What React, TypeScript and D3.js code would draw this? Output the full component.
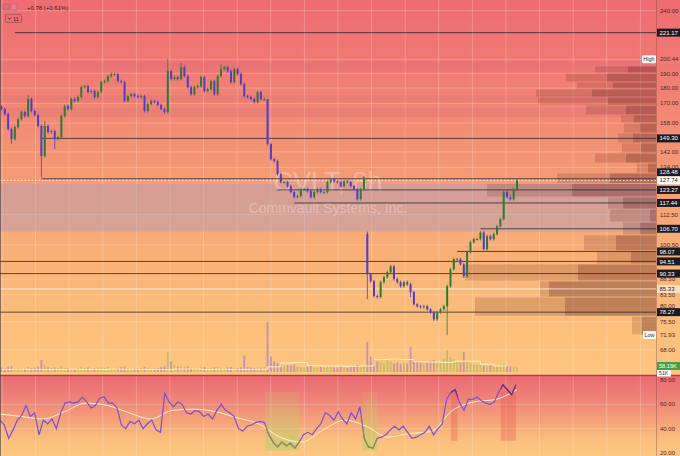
import React from 'react';
import * as d3 from 'd3';

// ---------- DATA ----------
const firstOpen = 168.0;
const closes = [
  166.5, 163.4, 154.5, 148.9, 155.7, 160.4, 164.6, 162.2, 172.8, 165.3,
  162.8, 156.3, 139.8, 156.3, 152.8, 153.4, 148.9, 150.0, 162.2, 168.4,
  166.5, 172.8, 171.5, 174.1, 180.6, 181.3, 177.3, 178.0, 174.1, 177.3,
  184.0, 184.7, 188.2, 189.6, 189.6, 184.7, 184.0, 171.5, 174.7, 176.0,
  174.7, 174.1, 174.7, 165.3, 169.6, 171.5, 170.9, 169.0, 166.5, 164.6,
  191.7, 186.1, 187.5, 186.1, 194.6, 188.2, 180.6, 176.0, 180.6, 181.3,
  187.5, 178.0, 179.3, 184.7, 176.0, 188.2, 193.1, 194.6, 191.7, 184.0,
  193.1, 189.6, 182.7, 174.7, 174.1, 172.8, 170.9, 177.3, 172.8, 172.8,
  146.2, 138.2, 137.2, 130.7, 126.9, 126.9, 125.0, 122.3, 120.0, 120.5,
  123.6, 123.6, 122.7, 120.0, 122.3, 123.6, 122.3, 122.3, 126.9, 128.3,
  127.3, 126.9, 125.0, 127.3, 126.9, 125.0, 123.6, 119.1, 123.6, 129.2,
  90.1, 87.8, 83.1, 82.8, 87.5, 89.1, 90.8, 92.8, 88.5, 87.5,
  86.2, 87.5, 86.8, 84.3, 80.6, 80.0, 79.7, 80.0, 79.1, 78.2,
  76.2, 78.2, 79.1, 80.0, 86.2, 91.8, 95.3, 95.3, 93.5, 89.4,
  97.8, 101.5, 102.7, 102.7, 105.2, 98.9, 103.8, 102.7, 104.6, 107.7,
  110.6, 122.3, 120.0, 119.1, 123.6, 127.74,
];
const gapOpens: [number, number][] = [[110, 104.6]];
const wickHighs: [number, number][] = [[13, 159.2], [50, 200.44], [54, 197.5], [66, 196.8], [80, 171.0], [110, 105.6], [8, 175.4]];
const wickLows: [number, number][] = [[12, 129.2], [16, 143.5], [110, 82.1], [134, 71.93], [3, 146.4], [123, 82.8]];

const volumes = [
  55, 40, 60, 70, 45, 50, 38, 42, 60, 48,
  52, 65, 140, 80, 60, 50, 55, 45, 70, 50,
  45, 40, 38, 50, 60, 45, 55, 40, 42, 50,
  55, 48, 60, 45, 40, 50, 55, 65, 45, 40,
  42, 38, 45, 60, 50, 40, 42, 48, 55, 70,
  230, 120, 80, 60, 70, 55, 65, 50, 45, 48,
  55, 60, 45, 50, 55, 60, 50, 45, 55, 60,
  50, 45, 55, 190, 60, 50, 45, 55, 50, 60,
  580, 180, 120, 100, 90, 70, 80, 75, 85, 60,
  55, 50, 60, 70, 55, 50, 60, 55, 75, 65,
  55, 50, 60, 55, 50, 60, 65, 80, 70, 75,
  350, 180, 150, 120, 110, 100, 130, 120, 100, 110,
  95, 105, 100, 290, 130, 120, 110, 100, 115, 130,
  140, 120, 110, 150, 255, 170, 150, 120, 110, 230,
  120, 100, 90, 80, 85, 75, 70, 80, 75, 70,
  85, 95, 70, 65, 60, 58.19,
];
const volMA = [30, 32, 30, 28, 30, 32, 30, 30, 33, 32, 30, 30, 28, 34, 36, 30, 32, 30, 30, 32,
  60, 105, 110, 75, 70, 68, 66, 70, 145, 150, 145, 118, 115, 112, 125, 125, 90, 70, 68];

const rsi = [
  47, 43, 32, 39, 47, 51, 59, 50, 53, 35,
  47, 44, 48, 40, 53, 61, 62, 61, 62, 66,
  62, 57, 59, 65, 66, 61, 61, 57, 43, 40,
  46, 44, 47, 40, 44, 47, 39, 37, 69, 62,
  58, 62, 60, 53, 52, 55, 54, 50, 52, 48,
  55, 60, 55, 53, 50, 40, 38, 42, 43, 45,
  46, 45, 35, 29, 25, 29, 26, 28, 24, 29,
  35, 37, 35, 40, 44, 53, 51, 47, 54, 48,
  44, 53, 48, 58, 32, 25, 24, 32, 33, 35,
  39, 42, 39, 42, 37, 32, 33, 35, 37, 42,
  35, 40, 44, 64, 70, 72, 61, 55, 64, 64,
  66, 63, 61, 60, 62, 70, 76, 72, 68, 76,
];
const rsiMA = [52, 50, 48, 54, 61, 59, 53, 48, 55, 56, 54, 49, 44, 33, 29, 39, 47, 42, 33, 36, 37.5, 55, 62, 64, 72];
const oversoldZones: [number, number][] = [[61.2, 69], [83.6, 87]];
const overboughtZones: [number, number][] = [[104, 105.5], [115.5, 119]];
const rsiTicks = [80, 60, 40, 20];

// volume profile (row price bounds, total volume, inner volume)
const vpBounds = [195.4, 190.4, 184.1, 179.4, 174.1, 169.0, 162.9, 158.1, 152.3, 146.8, 141.4, 136.2,
  131.3, 126.3, 120.1, 114.8, 109.4, 104.3, 98.3, 93.6, 87.9, 82.8, 77.1, 71.9];
const vpTotal = [61, 90, 79, 120, 118, 70, 35, 32, 38, 34, 61, 19, 99, 169, 48, 46, 33, 72, 59, 191, 116, 181, 24];
const vpInner = [28, 49, 43, 64, 48, 30, 22, 16, 23, 15, 30, 8, 46, 84, 33, 6, 16, 40, 25, 78, 107, 91, 14];
const valueBands: [number, number][] = [[199.1, 191.1], [175.4, 170.9], [167.2, 161.6]];
const rangeBand: [number, number] = [126.0, 105.6];

// key levels: price, start candle
const levelPrices = [221.17, 149.30, 128.48, 123.27, 117.44, 106.70, 98.07, 94.51, 90.33, 78.27];
const levelStarts = [4, 12, 12, 83, 88, 144, 137, 0, 0, 0];
const lastPrice = 127.74;
const lightLevel = 85.33;
const highPrice = 200.44;
const lowPrice = 71.93;
const plainTicks = [240, 190, 180, 170, 158, 142, 134, 112.5, 100.5, 88.5, 83.5, 80, 75.5, 68];
const gridPrices = [240, 200, 190, 180, 170, 158, 142, 134, 112.5, 100.5, 88.5, 83.5, 75.5, 68];
const lastVolLabel = '58.19K';
const volMALabel = '51K';
const changeText = '+0.78 (+0.61%)';
const ticker = 'CVLT, 8h';
const company = 'Commvault Systems, Inc.';

// ---------- LAYOUT ----------
const W = 680, H = 456;
const PR = 656; // plot right
const MAIN_B = 372;
const FONT = '"Liberation Sans", Arial, sans-serif';

export default function App() {
  const y = d3.scaleLog().domain([62.66, 249.7]).range([MAIN_B, 0]);
  const x = d3.scaleLinear().domain([0, closes.length - 1]).range([1.5, 517]);
  const yVol = d3.scaleLinear().domain([0, 580]).range([MAIN_B, 322]);
  const yR = d3.scaleLinear().domain([20, 80]).range([453, 380]);
  const xR = d3.scaleLinear().domain([0, rsi.length - 1]).range([0, 516]);
  const xRM = d3.scaleLinear().domain([0, rsiMA.length - 1]).range([0, 517]);
  const vpW = d3.scaleLinear().domain([0, 200]).range([0, 200]);

  const candles = closes.map((c, i) => {
    const g = gapOpens.find((d) => d[0] === i);
    const o = g ? g[1] : i === 0 ? firstOpen : closes[i - 1];
    const wh = wickHighs.find((d) => d[0] === i);
    const wl = wickLows.find((d) => d[0] === i);
    const hi = Math.max(o, c), lo = Math.min(o, c);
    return { i, o, c, up: c >= o, yTop: y(hi), yBot: y(lo),
      wTop: wh ? y(wh[1]) : y(hi) - 1.5, wBot: wl ? y(wl[1]) : y(lo) + 1.5 };
  });

  const gridX = d3.range(0, 20).map((k) => 2 + 33.6 * k).filter((v) => v < PR);

  const rsiLine = d3.line<number>().x((_, i) => xR(i)).y((d) => yR(d)).curve(d3.curveLinear);
  const rsiMALine = d3.line<number>().x((_, i) => xRM(i)).y((d) => yR(d)).curve(d3.curveMonotoneX);
  const volMALine = d3.line<number>().x((_, i) => x(i * 4)).y((d) => yVol(d)).curve(d3.curveStepAfter);

  // boxed axis labels with collision avoidance
  const boxed = [
    ...levelPrices.map((p) => ({ p, text: p.toFixed(2), kind: 'dark' })),
    { p: lastPrice, text: lastPrice.toFixed(2), kind: 'white' },
    { p: lightLevel, text: lightLevel.toFixed(2), kind: 'light' },
  ].map((d) => ({ ...d, cy: y(d.p) })).sort((a, b) => a.cy - b.cy);
  for (let i = boxed.length - 2; i >= 0; i--) {
    if (boxed[i].cy > boxed[i + 1].cy - 8) boxed[i].cy = boxed[i + 1].cy - 8;
  }

  return (
    <svg width={W} height={H} style={{ position: 'fixed', left: 0, top: 0, fontFamily: FONT }}>
      <defs>
        <linearGradient id="mainBg" x1="0" y1="0" x2="0" y2="1">
          <stop offset="0" stopColor="#ee6c72" />
          <stop offset="0.18" stopColor="#f07a73" />
          <stop offset="0.38" stopColor="#f39173" />
          <stop offset="0.58" stopColor="#f7a775" />
          <stop offset="0.8" stopColor="#fbba79" />
          <stop offset="1" stopColor="#fec680" />
        </linearGradient>
        <linearGradient id="rsiBg" x1="0" y1="0" x2="0" y2="1">
          <stop offset="0" stopColor="#ea6a73" />
          <stop offset="0.3" stopColor="#ef8378" />
          <stop offset="0.62" stopColor="#f6a97a" />
          <stop offset="0.8" stopColor="#fbbf7e" />
          <stop offset="1" stopColor="#fec781" />
        </linearGradient>
        <linearGradient id="osZone" x1="0" y1="0" x2="0" y2="1">
          <stop offset="0" stopColor="#c9c46a" stopOpacity="0.15" />
          <stop offset="1" stopColor="#b8d06a" stopOpacity="0.6" />
        </linearGradient>
        <clipPath id="plotClip"><rect x={0} y={0} width={PR} height={MAIN_B + 1} /></clipPath>
        <clipPath id="osClip">
          {oversoldZones.map((z, k) => (
            <rect key={k} x={xR(z[0])} y={374} width={xR(z[1]) - xR(z[0])} height={82} />
          ))}
        </clipPath>
        <clipPath id="obClip">
          {overboughtZones.map((z, k) => (
            <rect key={k} x={xR(z[0])} y={374} width={xR(z[1]) - xR(z[0])} height={82} />
          ))}
        </clipPath>
      </defs>

      {/* backgrounds */}
      <rect x={0} y={0} width={W} height={375} fill="url(#mainBg)" />
      <rect x={0} y={375} width={W} height={H - 375} fill="url(#rsiBg)" />

      {/* grid */}
      <g stroke="#ffffff" strokeOpacity={0.28} strokeWidth={0.8}>
        {gridX.map((gx) => <line key={'gx' + gx} x1={gx} x2={gx} y1={0} y2={H} />)}
        {gridPrices.map((p) => <line key={'gp' + p} x1={0} x2={PR} y1={y(p)} y2={y(p)} />)}
        {[60, 40].map((v) => <line key={'gr' + v} x1={0} x2={PR} y1={yR(v)} y2={yR(v)} />)}
      </g>

      <g clipPath="url(#plotClip)">
        {/* value bands */}
        {valueBands.map((b, k) => (
          <rect key={'vb' + k} x={0} width={PR} y={y(b[0])} height={y(b[1]) - y(b[0])} fill="#b84a7c" fillOpacity={0.13} />
        ))}
        <rect x={0} width={PR} y={y(rangeBand[0])} height={y(rangeBand[1]) - y(rangeBand[0])} fill="#a99ac4" fillOpacity={0.42} />

        {/* watermark */}
        <text x={328} y={191} textAnchor="middle" fontSize={27} fill="#ffffff" fillOpacity={0.3}>{ticker}</text>
        <text x={328} y={213} textAnchor="middle" fontSize={14} fill="#ffffff" fillOpacity={0.3}>{company}</text>

        {/* volume profile */}
        {vpTotal.map((v, k) => {
          const yt = y(vpBounds[k]) + 0.5;
          const h = y(vpBounds[k + 1]) - y(vpBounds[k]) - 1;
          return (
            <g key={'vp' + k}>
              <rect x={PR - vpW(v)} y={yt} width={vpW(v)} height={h} fill="#5a1e1e" fillOpacity={0.17} />
              <rect x={PR - vpW(vpInner[k])} y={yt} width={vpW(vpInner[k])} height={h} fill="#5a1e1e" fillOpacity={0.24} />
            </g>
          );
        })}

        {/* volume bars */}
        {volumes.map((v, i) => (
          <rect key={'v' + i} x={x(i) - 0.9} width={1.8} y={yVol(v)} height={MAIN_B - yVol(v)}
            fill={candles[i].up ? '#8fbf55' : '#9b74c8'} fillOpacity={0.6} />
        ))}
        <path d={volMALine(volMA) || ''} fill="none" stroke="#fff4c8" strokeWidth={1} strokeOpacity={0.9} />

        {/* level lines */}
        {levelPrices.map((p, k) => (
          <line key={'lv' + k} x1={levelStarts[k] === 0 ? 0 : x(levelStarts[k])} x2={PR} y1={y(p)} y2={y(p)}
            stroke="#2b2630" strokeOpacity={0.78} strokeWidth={1} />
        ))}
        <line x1={0} x2={PR} y1={y(lightLevel)} y2={y(lightLevel)} stroke="#ffffff" strokeOpacity={0.7} strokeWidth={1} />
        <line x1={0} x2={PR} y1={y(lastPrice)} y2={y(lastPrice)} stroke="#ffffff" strokeOpacity={0.85} strokeWidth={1} strokeDasharray="1.5,2" />

        {/* candles */}
        {candles.map((d) => (
          <g key={'c' + d.i} stroke={d.up ? '#2f7a3a' : '#553cc4'} fill={d.up ? '#2f7a3a' : '#553cc4'}>
            <line x1={x(d.i)} x2={x(d.i)} y1={d.wTop} y2={d.wBot} strokeWidth={0.8} />
            <rect x={x(d.i) - 1} width={2} y={d.yTop} height={Math.max(1, d.yBot - d.yTop)} stroke="none" />
          </g>
        ))}
      </g>

      {/* pane divider */}
      <line x1={0} x2={W} y1={375.5} y2={375.5} stroke="#b23b48" strokeWidth={1.5} />

      {/* RSI zones */}
      {oversoldZones.map((z, k) => (
        <rect key={'os' + k} x={xR(z[0])} width={xR(z[1]) - xR(z[0])} y={yR(70)} height={yR(22) - yR(70)} fill="url(#osZone)" />
      ))}
      {overboughtZones.map((z, k) => (
        <rect key={'ob' + k} x={xR(z[0])} width={xR(z[1]) - xR(z[0])} y={yR(71)} height={yR(30) - yR(71)} fill="#e8504a" fillOpacity={0.3} />
      ))}

      {/* RSI lines */}
      <path d={rsiMALine(rsiMA) || ''} fill="none" stroke="#fff2c4" strokeWidth={1} />
      <path d={rsiLine(rsi) || ''} fill="none" stroke="#7a52cf" strokeWidth={1.2} />
      <path d={rsiLine(rsi) || ''} fill="none" stroke="#8a9a3c" strokeWidth={1.2} clipPath="url(#osClip)" />
      <path d={rsiLine(rsi) || ''} fill="none" stroke="#6a2f7a" strokeWidth={1.2} clipPath="url(#obClip)" />

      {/* price axis separator */}
      <line x1={PR + 0.5} x2={PR + 0.5} y1={0} y2={H} stroke="#7a4040" strokeOpacity={0.45} strokeWidth={0.8} />
      <line x1={0.5} x2={0.5} y1={0} y2={H} stroke="#4a3a3a" strokeOpacity={0.6} strokeWidth={1} />

      {/* plain price ticks */}
      <g fontSize={6} fill="#4a2a2a">
        {plainTicks.map((p) => (
          <text key={'pt' + p} x={660} y={y(p) + 2}>{p.toFixed(2)}</text>
        ))}
        <text x={660} y={y(highPrice) + 2}>{highPrice.toFixed(2)}</text>
        <text x={660} y={y(lowPrice) + 2}>{lowPrice.toFixed(2)}</text>
        {rsiTicks.map((v) => <text key={'rt' + v} x={660} y={yR(v) + 2}>{v.toFixed(2)}</text>)}
      </g>

      {/* High / Low tags */}
      <rect x={642} y={y(highPrice) - 4} width={14} height={8} fill="#ffffff" fillOpacity={0.9} rx={1} />
      <text x={649} y={y(highPrice) + 2} fontSize={5.5} textAnchor="middle" fill="#333">High</text>
      <rect x={643} y={y(lowPrice) - 4} width={13} height={8} fill="#ffffff" fillOpacity={0.9} rx={1} />
      <text x={649.5} y={y(lowPrice) + 2} fontSize={5.5} textAnchor="middle" fill="#333">Low</text>

      {/* boxed labels */}
      {boxed.map((d, k) => (
        <g key={'bx' + k}>
          <rect x={657} y={d.cy - 4} width={23} height={8}
            fill={d.kind === 'dark' ? '#1c1a22' : '#ffffff'} fillOpacity={d.kind === 'light' ? 0.55 : 1} />
          <text x={659.5} y={d.cy + 2.1} fontSize={6} fill={d.kind === 'dark' ? '#ffffff' : '#222'}>{d.text}</text>
        </g>
      ))}

      {/* volume labels */}
      <rect x={657} y={362} width={23} height={8} fill="#43a047" />
      <text x={659} y={368.2} fontSize={5.6} fill="#ffffff">{lastVolLabel}</text>
      <rect x={657} y={370} width={14} height={6.5} fill="#ffffff" />
      <text x={659} y={375.2} fontSize={5.2} fill="#333">{volMALabel}</text>

      {/* legend top-left */}
      <rect x={3} y={4} width={6} height={6} fill="#e06a78" stroke="#c05060" strokeWidth={0.5} />
      <rect x={11} y={4} width={6} height={6} fill="#e9808a" stroke="#c05060" strokeWidth={0.5} />
      <text x={27} y={10} fontSize={6} fill="#3a2020">{changeText}</text>
      <rect x={5.5} y={14.5} width={16} height={8} fill="none" stroke="#9a4a50" strokeWidth={0.7} rx={1} />
      <polyline points="8,17.5 9.5,19.5 11,17.5" fill="none" stroke="#3a2020" strokeWidth={0.7} />
      <text x={13} y={21} fontSize={5.5} fill="#3a2020">11</text>
    </svg>
  );
}
